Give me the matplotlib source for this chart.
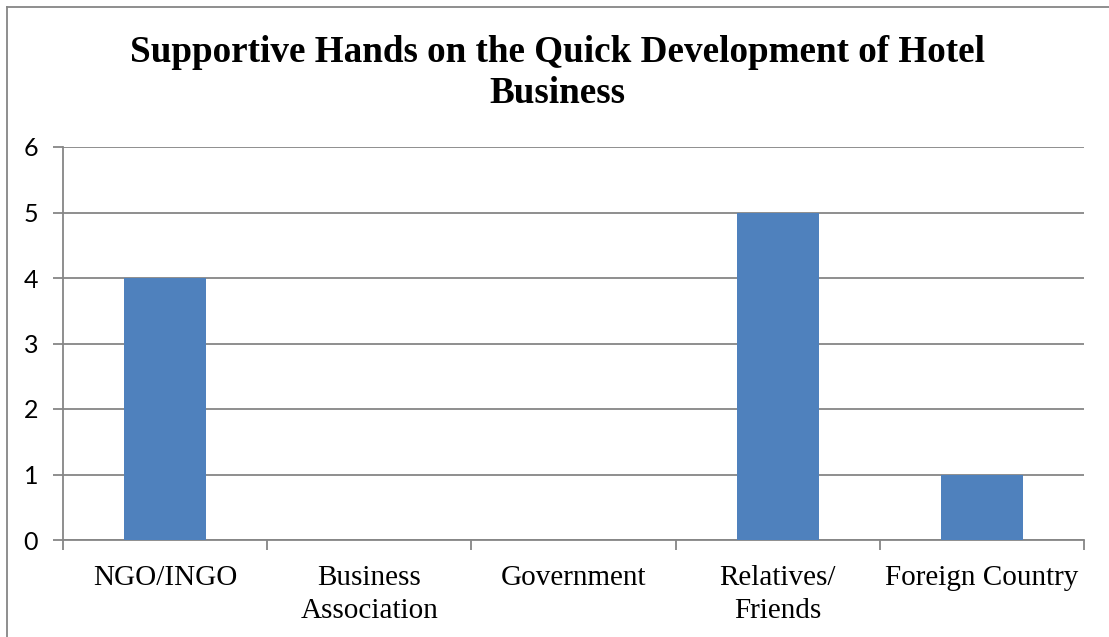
import matplotlib.pyplot as plt
import numpy as np
from matplotlib.lines import Line2D

# 各类帮助来源的数量
categories = ["NGO/INGO", "Business\nAssociation", "Government", "Relatives/\nFriends", "Foreign Country"]
counts = [4, 0, 0, 5, 1]
y_ticks = [0, 1, 2, 3, 4, 5, 6]
title = "Supportive Hands on the Quick Development of Hotel\nBusiness"

W, H = 1109, 637
fig = plt.figure(figsize=(W / 100, H / 100), dpi=100)
fig.patch.set_facecolor("white")

# 绘图区域（像素换算成比例）
left, right, top, bottom = 63, 1084, 147, 540
ax = fig.add_axes([left / W, (H - bottom) / H, (right - left) / W, (bottom - top) / H])

grey = "#868686"
x = np.arange(len(categories))
ax.bar(x, counts, width=0.4, color="#4F81BD", zorder=3)

ax.set_xlim(-0.5, len(categories) - 0.5)
ax.set_ylim(0, 6)
ax.set_yticks(y_ticks)
ax.grid(axis="y", color=grey, linewidth=1.3, zorder=0)

for side in ["top", "right"]:
    ax.spines[side].set_visible(False)
for side in ["left", "bottom"]:
    ax.spines[side].set_color(grey)
    ax.spines[side].set_linewidth(1.3)

# 分类边界处画刻度，标签放在分类中间
ax.set_xticks(np.arange(len(categories) + 1) - 0.5)
ax.set_xticklabels([])
ax.set_xticks(x, minor=True)
ax.set_xticklabels(categories, minor=True, fontfamily="Liberation Serif", fontsize=21,
                   linespacing=1.36)
ax.tick_params(axis="x", which="major", length=7, width=1.3, color=grey)
ax.tick_params(axis="x", which="minor", length=0, pad=18)
ax.tick_params(axis="y", length=7, width=1.3, color=grey, pad=11, labelsize=18)
for lab in ax.get_yticklabels():
    lab.set_fontfamily("Lato")

fig.text(0.503, 1 - 35 / H, title, ha="center", va="top", fontsize=26.7,
         fontweight="bold", fontfamily="Liberation Serif", linespacing=1.24)

# 外框（只看得到上边和左边）
fig.add_artist(Line2D([7 / W, 1], [1 - 7 / H, 1 - 7 / H], color=grey, linewidth=1.3,
                      transform=fig.transFigure))
fig.add_artist(Line2D([7 / W, 7 / W], [0, 1 - 7 / H], color=grey, linewidth=1.3,
                      transform=fig.transFigure))

plt.savefig("out.png", dpi=100)
